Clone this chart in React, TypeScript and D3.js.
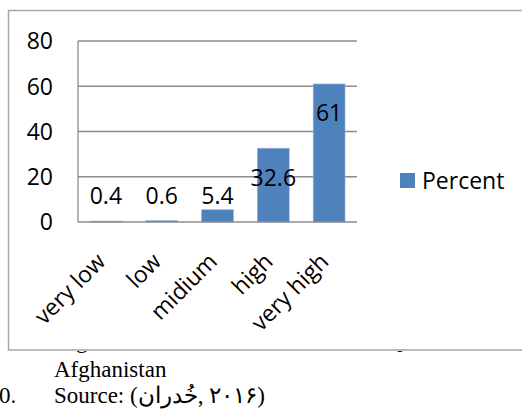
import React from "react";
import * as d3 from "d3";

const categories = ["very low", "low", "midium", "high", "very high"];
const percentValues = [0.4, 0.6, 5.4, 32.6, 61];
const yTicks = [0, 20, 40, 60, 80];
const seriesName = "Percent";

const W = 522;
const H = 410;
const FONT = "'Open Sans', sans-serif";

export default function App() {
  const x = d3.scaleBand<string>().domain(categories).range([78, 357]).paddingInner(0.43).paddingOuter(0.215);
  const y = d3.scaleLinear().domain([0, 80]).range([222, 41]);
  const grid = "#8c8c8c";
  return (
    <svg width={W} height={H} style={{ position: "absolute", left: 0, top: 0 }}>
      <defs>
        <clipPath id="below">
          <rect x={0} y={351} width={W} height={20} />
        </clipPath>
      </defs>
      <rect x={0} y={0} width={W} height={H} fill="#fff" />
      <g clipPath="url(#below)" fontFamily="'Liberation Serif', serif" fontSize={23} fill="#000">
        <text x={76} y={348}>g</text>
        <text x={397} y={347}>p</text>
      </g>
      <rect x={8.5} y={10.5} width={530} height={339.5} fill="none" stroke="#a6a6a6" strokeWidth={1.5} />
      {yTicks.map((t) => (
        <g key={t}>
          {t > 0 && <line x1={78} x2={357} y1={y(t)} y2={y(t)} stroke={grid} strokeWidth={1.3} />}
          <text x={53} y={y(t)} dy="0.36em" textAnchor="end" fontFamily={FONT} fontSize={23} fill="#000">
            {t}
          </text>
        </g>
      ))}
      {categories.map((c, i) => {
        const v = percentValues[i];
        const bx = x(c)!;
        const bw = x.bandwidth();
        const top = y(v);
        const cy = Math.min(top + 29, y(0) - 26);
        return (
          <g key={c}>
            <rect x={bx} y={top} width={bw} height={y(0) - top} fill="#4F81BD" stroke="#8fb0d8" strokeWidth={0.6} />
            <text x={bx + bw / 2} y={cy} dy="0.36em" textAnchor="middle" fontFamily={FONT} fontSize={23} fill="#000">
              {v}
            </text>
            <text
              transform={`translate(${bx + bw / 2 + 1},${y(0) + 41}) rotate(-45)`}
              textAnchor="end"
              fontFamily={FONT}
              fontSize={23}
              fill="#000"
            >
              {c}
            </text>
          </g>
        );
      })}
      <line x1={78} x2={78} y1={41} y2={222} stroke={grid} strokeWidth={1.3} />
      <line x1={78} x2={357} y1={222} y2={222} stroke={grid} strokeWidth={1.3} />
      <rect x={400} y={173} width={15} height={15} fill="#4F81BD" />
      <text x={422} y={180.5} dy="0.36em" fontFamily={FONT} fontSize={23} fill="#000">
        {seriesName}
      </text>
      <g fontFamily="'Liberation Serif', serif" fontSize={23} fill="#000">
        <text x={54} y={377}>Afghanistan</text>
        <text x={54} y={403}>{"Source: (خُدران\u200E, ۲۰۱۶)"}</text>
        <text x={-1} y={403}>0.</text>
      </g>
    </svg>
  );
}
